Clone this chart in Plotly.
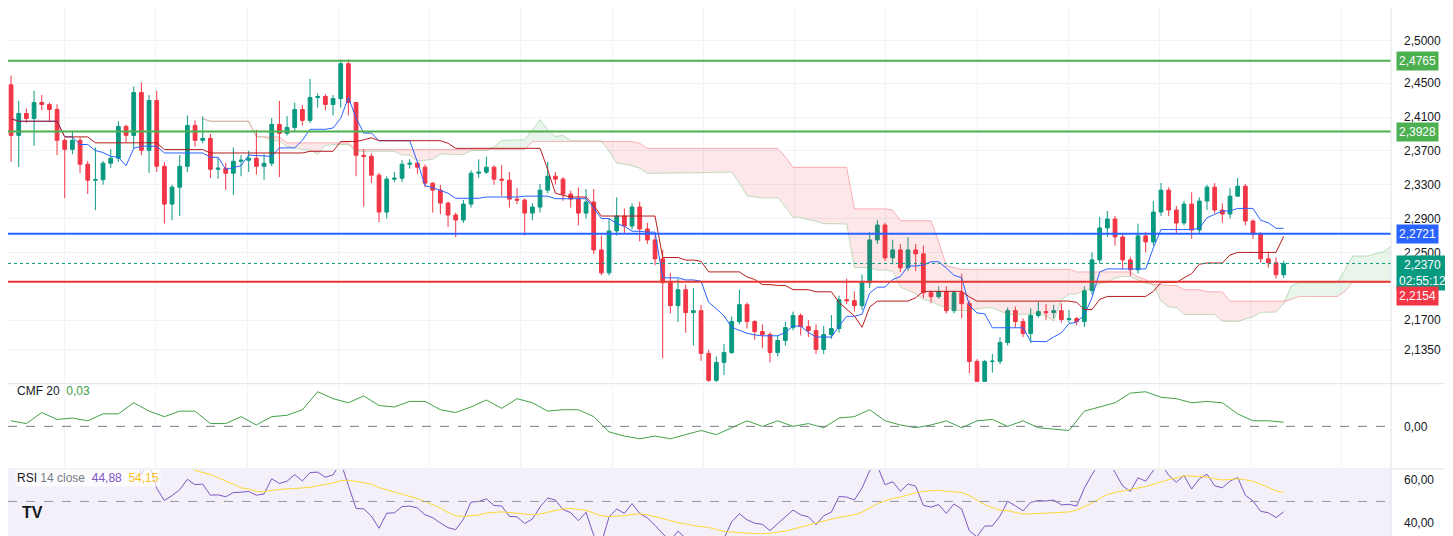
import numpy as np
import pandas as pd
import plotly.graph_objects as go

# 4h candles, close prices (open = previous close)
first_open = 2.448
closes = [2.3883, 2.4142, 2.4083, 2.4271, 2.4248, 2.4189, 2.3824, 2.3718, 2.3824, 2.3542,
          2.3354, 2.3360, 2.3554, 2.3613, 2.3989, 2.3883, 2.4389, 2.3707, 2.4295, 2.3518,
          2.3071, 2.3271, 2.3518, 2.4001, 2.3824, 2.3848, 2.3483, 2.3495, 2.3436, 2.3577,
          2.3589, 2.3613, 2.3518, 2.3554, 2.4012, 2.3907, 2.3977, 2.4189, 2.4060, 2.4330,
          2.4342, 2.4248, 2.4318, 2.4730, 2.4271, 2.3648, 2.3636, 2.3413, 2.2977, 2.3366,
          2.3377, 2.3542, 2.3554, 2.3507, 2.3318, 2.3236, 2.3083, 2.2942, 2.2883, 2.3071,
          2.3436, 2.3448, 2.3507, 2.3366, 2.3354, 2.3130, 2.3118, 2.2965, 2.3036, 2.3236,
          2.3401, 2.3366, 2.3189, 2.3130, 2.2965, 2.3095, 2.2530, 2.2259, 2.2754, 2.2930,
          2.2812, 2.3036, 2.2777, 2.2648, 2.2424, 2.2142, 2.1871, 2.2059, 2.1789, 2.1812,
          2.1307, 2.0989, 2.1201, 2.1318, 2.1683, 2.1883, 2.1683, 2.1565, 2.1530, 2.1318,
          2.1460, 2.1612, 2.1754, 2.1624, 2.1577, 2.1354, 2.1530, 2.1601, 2.1942, 2.1930,
          2.1871, 2.2142, 2.2648, 2.2824, 2.2436, 2.2530, 2.2318, 2.2530, 2.2483, 2.2024,
          2.1977, 2.2036, 2.1812, 2.2024, 2.1895, 2.1212, 2.0977, 2.1212, 2.1215, 2.1436,
          2.1812, 2.1683, 2.1542, 2.1754, 2.1801, 2.1789, 2.1812, 2.1707, 2.1718, 2.1683,
          2.2048, 2.2412, 2.2789, 2.2895, 2.2683, 2.2412, 2.2295, 2.2695, 2.2624, 2.2977,
          2.3236, 2.3001, 2.2848, 2.3071, 2.2765, 2.3107, 2.3271, 2.3001, 2.2954, 2.3165,
          2.3283, 2.2871, 2.2718, 2.2424, 2.2377, 2.2236, 2.2365]
highs = [2.459, 2.429, 2.420, 2.441, 2.436, 2.427, 2.425, 2.385, 2.394, 2.386,
         2.358, 2.374, 2.358, 2.372, 2.405, 2.401, 2.446, 2.451, 2.436, 2.441,
         2.357, 2.330, 2.365, 2.412, 2.406, 2.411, 2.390, 2.362, 2.356, 2.374,
         2.365, 2.370, 2.395, 2.366, 2.409, 2.429, 2.411, 2.427, 2.424, 2.455,
         2.438, 2.437, 2.436, 2.478, 2.478, 2.428, 2.372, 2.367, 2.344, 2.340,
         2.345, 2.359, 2.360, 2.357, 2.354, 2.333, 2.330, 2.310, 2.297, 2.312,
         2.347, 2.360, 2.363, 2.353, 2.353, 2.345, 2.326, 2.314, 2.308, 2.331,
         2.357, 2.345, 2.339, 2.323, 2.327, 2.325, 2.325, 2.270, 2.290, 2.315,
         2.302, 2.308, 2.310, 2.285, 2.270, 2.253, 2.226, 2.219, 2.212, 2.208,
         2.188, 2.135, 2.127, 2.142, 2.174, 2.206, 2.191, 2.170, 2.165, 2.156,
         2.152, 2.168, 2.180, 2.178, 2.170, 2.165, 2.163, 2.176, 2.199, 2.219,
         2.204, 2.224, 2.274, 2.288, 2.285, 2.265, 2.260, 2.268, 2.260, 2.258,
         2.205, 2.210, 2.210, 2.205, 2.225, 2.193, 2.124, 2.123, 2.130, 2.150,
         2.185, 2.186, 2.172, 2.184, 2.192, 2.189, 2.188, 2.190, 2.182, 2.174,
         2.210, 2.250, 2.292, 2.299, 2.293, 2.272, 2.245, 2.284, 2.274, 2.311,
         2.332, 2.327, 2.305, 2.311, 2.321, 2.315, 2.330, 2.332, 2.308, 2.326,
         2.338, 2.331, 2.289, 2.274, 2.251, 2.244, 2.240]
lows = [2.357, 2.351, 2.403, 2.376, 2.418, 2.405, 2.365, 2.314, 2.366, 2.344,
        2.319, 2.300, 2.330, 2.350, 2.357, 2.380, 2.373, 2.365, 2.344, 2.345,
        2.284, 2.288, 2.293, 2.345, 2.375, 2.379, 2.338, 2.337, 2.324, 2.318,
        2.340, 2.345, 2.342, 2.336, 2.352, 2.339, 2.388, 2.394, 2.400, 2.403,
        2.421, 2.418, 2.412, 2.421, 2.412, 2.340, 2.304, 2.332, 2.286, 2.290,
        2.333, 2.333, 2.349, 2.343, 2.327, 2.297, 2.295, 2.280, 2.268, 2.285,
        2.303, 2.338, 2.343, 2.330, 2.317, 2.303, 2.307, 2.270, 2.288, 2.297,
        2.320, 2.330, 2.311, 2.303, 2.282, 2.290, 2.248, 2.223, 2.223, 2.270,
        2.273, 2.277, 2.263, 2.260, 2.235, 2.125, 2.178, 2.168, 2.155, 2.140,
        2.122, 2.097, 2.097, 2.105, 2.130, 2.165, 2.160, 2.147, 2.137, 2.120,
        2.127, 2.140, 2.158, 2.152, 2.150, 2.130, 2.130, 2.148, 2.155, 2.189,
        2.180, 2.182, 2.208, 2.260, 2.240, 2.236, 2.227, 2.228, 2.228, 2.196,
        2.190, 2.195, 2.178, 2.178, 2.172, 2.107, 2.097, 2.097, 2.108, 2.118,
        2.140, 2.161, 2.150, 2.143, 2.173, 2.170, 2.172, 2.167, 2.167, 2.164,
        2.162, 2.200, 2.237, 2.268, 2.258, 2.230, 2.222, 2.225, 2.250, 2.258,
        2.293, 2.293, 2.273, 2.282, 2.266, 2.273, 2.300, 2.296, 2.285, 2.290,
        2.318, 2.282, 2.266, 2.238, 2.232, 2.219, 2.220]

# Chaikin money flow, one reading every 2 candles
cmf = [0.04, 0.02, 0.10, 0.05, 0.06, 0.04, 0.09, 0.09, 0.17, 0.11, 0.07, 0.11, 0.11, 0.02,
       0.02, 0.07, 0.01, 0.07, 0.08, 0.12, 0.25, 0.20, 0.17, 0.22, 0.15, 0.14, 0.18, 0.18,
       0.12, 0.10, 0.14, 0.19, 0.13, 0.20, 0.17, 0.11, 0.12, 0.12, 0.07, -0.04, -0.07, -0.09,
       -0.07, -0.09, -0.06, -0.03, -0.06, -0.01, 0.04, 0.00, 0.04, 0.00, 0.02, -0.01, 0.06, 0.07,
       0.12, 0.04, 0.01, -0.01, 0.01, 0.04, -0.01, 0.04, 0.05, 0.00, 0.04, -0.01, -0.02, -0.03,
       0.11, 0.14, 0.17, 0.24, 0.25, 0.21, 0.20, 0.17, 0.18, 0.17, 0.09, 0.04, 0.04, 0.03]

levels_green = [2.4765, 2.3928]
level_blue = 2.2721
level_red = 2.2154
last_price = 2.2370
countdown = "02:55:12"

price_ticks = [2.5000, 2.4500, 2.4100, 2.3700, 2.3300, 2.2900, 2.2500, 2.1700, 2.1350]

UP = "#089981"
DOWN = "#f23645"

n = len(closes)
idx = np.arange(n)
opens = [first_open] + closes[:-1]
c = pd.Series(closes)
h = pd.Series(highs)
l = pd.Series(lows)

# ichimoku
tenkan = (h.rolling(9, min_periods=1).max() + l.rolling(9, min_periods=1).min()) / 2
kijun = (h.rolling(26, min_periods=1).max() + l.rolling(26, min_periods=1).min()) / 2
span_a = (tenkan + kijun) / 2
span_b = (h.rolling(52, min_periods=1).max() + l.rolling(52, min_periods=1).min()) / 2
shift = 25
cx = idx + shift

# RSI 14 + its SMA 14
d = c.diff()
gain = d.clip(lower=0).ewm(alpha=1 / 14, adjust=False).mean()
loss = (-d.clip(upper=0)).ewm(alpha=1 / 14, adjust=False).mean()
rsi = 100 - 100 / (1 + gain / loss)
rsi_ma = rsi.rolling(14, min_periods=1).mean()

cmf_x = [min(2 * k, n - 1) for k in range(len(cmf))]

fig = go.Figure()

# cloud
green_top = np.where(span_a >= span_b, span_a, span_b)
red_top = np.where(span_a < span_b, span_a, span_b)
fig.add_trace(go.Scatter(x=cx, y=span_b, mode="lines", line=dict(width=0), hoverinfo="skip"))
fig.add_trace(go.Scatter(x=cx, y=green_top, mode="lines", line=dict(width=0), fill="tonexty",
                         fillcolor="rgba(76,175,80,0.12)", hoverinfo="skip"))
fig.add_trace(go.Scatter(x=cx, y=span_b, mode="lines", line=dict(width=0), hoverinfo="skip"))
fig.add_trace(go.Scatter(x=cx, y=red_top, mode="lines", line=dict(width=0), fill="tonexty",
                         fillcolor="rgba(242,54,69,0.12)", hoverinfo="skip"))
fig.add_trace(go.Scatter(x=cx, y=span_a, mode="lines", line=dict(color="rgba(76,175,80,0.35)", width=1)))
fig.add_trace(go.Scatter(x=cx, y=span_b, mode="lines", line=dict(color="rgba(242,54,69,0.35)", width=1)))

fig.add_trace(go.Scatter(x=idx, y=tenkan, mode="lines", line=dict(color="#2962ff", width=1)))
fig.add_trace(go.Scatter(x=idx, y=kijun, mode="lines", line=dict(color="#b71c1c", width=1)))

fig.add_trace(go.Candlestick(x=idx, open=opens, high=highs, low=lows, close=closes,
                             increasing=dict(line=dict(color=UP, width=1), fillcolor=UP),
                             decreasing=dict(line=dict(color=DOWN, width=1), fillcolor=DOWN),
                             whiskerwidth=0))

fig.add_trace(go.Scatter(x=cmf_x, y=cmf, mode="lines", line=dict(color="#43a047", width=1),
                         xaxis="x2", yaxis="y2"))
fig.add_trace(go.Scatter(x=idx, y=rsi, mode="lines", line=dict(color="#7e57c2", width=1),
                         xaxis="x3", yaxis="y3"))
fig.add_trace(go.Scatter(x=idx, y=rsi_ma, mode="lines", line=dict(color="#fdd835", width=1),
                         xaxis="x3", yaxis="y3"))

xr = [-0.4, 180]
grid_x = list(np.arange(7, 180, 11.9))
xdom = [0, 1383 / 1453]
axis_x = dict(range=xr, domain=xdom, showticklabels=False, tickvals=grid_x,
              gridcolor="#f0f3fa", zeroline=False, showline=False)
tickfont = dict(family="Liberation Sans, Arial", size=12, color="#131722")

fig.update_layout(
    width=1453, height=536, margin=dict(l=0, r=0, t=0, b=0),
    plot_bgcolor="white", paper_bgcolor="white", showlegend=False,
    separators=",.",
    xaxis=dict(axis_x, rangeslider=dict(visible=False)),
    xaxis2=dict(axis_x, anchor="y2"),
    xaxis3=dict(axis_x, anchor="y3"),
    yaxis=dict(domain=[0.30, 1], range=[2.0955, 2.5388], side="right", tickvals=price_ticks,
               ticktext=[f"{v:.4f}".replace(".", ",") for v in price_ticks], tickfont=tickfont,
               gridcolor="#f0f3fa", zeroline=False, ticks="", ticklabelstandoff=12),
    yaxis2=dict(domain=[0.142, 0.297], range=[-0.3, 0.3], side="right", tickvals=[0],
                ticktext=["0,00"], tickfont=tickfont, showgrid=False, zeroline=False,
                anchor="x2", ticklabelstandoff=12),
    yaxis3=dict(domain=[0, 0.138], range=[30.2, 64.6], side="right", tickvals=[60, 40],
                ticktext=["60,00", "40,00"], tickfont=tickfont, showgrid=False, zeroline=False,
                anchor="x3", ticklabelstandoff=12),
)

shapes = []
for v in levels_green:
    shapes.append(dict(type="line", xref="x domain", yref="y", x0=0, x1=1, y0=v, y1=v,
                       line=dict(color="#4caf50", width=2)))
shapes.append(dict(type="line", xref="x domain", yref="y", x0=0, x1=1, y0=level_blue, y1=level_blue,
                   line=dict(color="#2962ff", width=2)))
shapes.append(dict(type="line", xref="x domain", yref="y", x0=0, x1=1, y0=level_red, y1=level_red,
                   line=dict(color="#e53935", width=2)))
shapes.append(dict(type="line", xref="x domain", yref="y", x0=0, x1=1, y0=last_price, y1=last_price,
                   line=dict(color=UP, width=1, dash="dot")))
shapes.append(dict(type="line", xref="x2 domain", yref="y2", x0=0, x1=1, y0=0, y1=0,
                   line=dict(color="#787b86", width=1, dash="dash")))
shapes.append(dict(type="rect", xref="x3 domain", yref="y3", x0=0, x1=1, y0=30.2, y1=64.6,
                   fillcolor="rgba(126,87,194,0.09)", line=dict(width=0), layer="below"))
shapes.append(dict(type="line", xref="x3 domain", yref="y3", x0=0, x1=1, y0=50, y1=50,
                   line=dict(color="#9598a1", width=1, dash="dash")))
for yy in [0.299, 0.140]:
    shapes.append(dict(type="line", xref="paper", yref="paper", x0=0, x1=1, y0=yy, y1=yy,
                       line=dict(color="#e0e3eb", width=1)))
shapes.append(dict(type="line", xref="paper", yref="paper", x0=xdom[1], x1=xdom[1], y0=0, y1=1,
                   line=dict(color="#e0e3eb", width=1)))
fig.update_layout(shapes=shapes)


def badge(val, text, color, yshift=0):
    fig.add_annotation(x=xdom[1], xref="paper", y=val, yref="y", text=text, showarrow=False,
                       xanchor="left", xshift=5, yshift=yshift, bgcolor=color, borderpad=2,
                       font=dict(family="Liberation Sans, Arial", size=12, color="white"))


for v in levels_green:
    badge(v, f"{v:.4f}".replace(".", ","), "#4caf50")
badge(level_blue, f"{level_blue:.4f}".replace(".", ","), "#2962ff")
badge(last_price, f"{last_price:.4f}".replace(".", ",") + "<br>" + countdown, UP, yshift=-10)
badge(level_red, f"{level_red:.4f}".replace(".", ","), "#f23645", yshift=-14)

fig.add_annotation(x=0.005, xref="paper", y=0.268, yref="paper", xanchor="left", showarrow=False,
                   text="CMF 20  <span style='color:#43a047'>0,03</span>",
                   font=dict(family="Liberation Sans, Arial", size=12, color="#131722"))
fig.add_annotation(x=0.005, xref="paper", y=0.107, yref="paper", xanchor="left", showarrow=False,
                   text="RSI <span style='color:#787b86'>14 close</span>  "
                        "<span style='color:#7e57c2'>44,88</span>  <span style='color:#f9c21a'>54,15</span>",
                   bgcolor="rgba(255,255,255,0.7)",
                   font=dict(family="Liberation Sans, Arial", size=12, color="#131722"))
fig.add_annotation(x=0.008, xref="paper", y=0.04, yref="paper", xanchor="left", showarrow=False,
                   text="<b>TV</b>", font=dict(family="Liberation Sans, Arial", size=16, color="#131722"))

fig.write_html("out.html")
